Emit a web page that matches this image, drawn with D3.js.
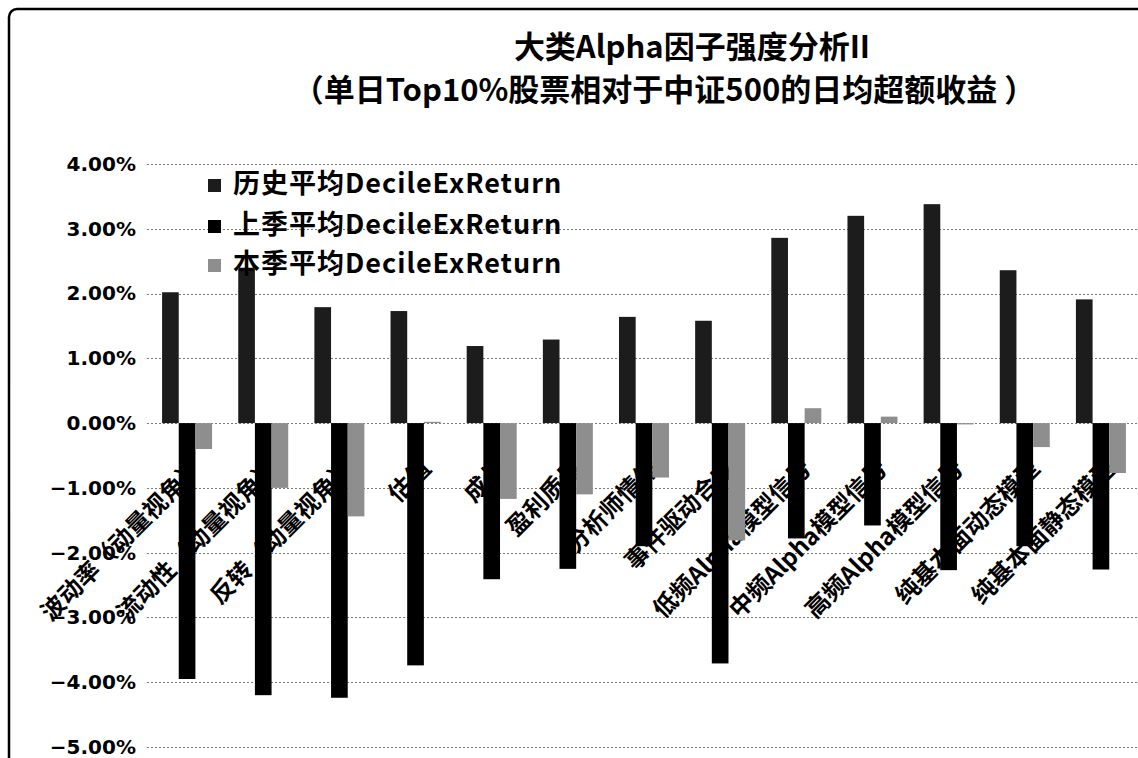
<!DOCTYPE html>
<html>
<head>
<meta charset="utf-8">
<script src="https://cdn.jsdelivr.net/npm/d3@7"></script>
<style>
  html, body { margin: 0; padding: 0; background: #fff; }
  svg { display: block; }
</style>
</head>
<body>
<svg id="chart" width="1138" height="758"></svg>
<script>
const categories = [
  "波动率（动量视角）", "流动性（动量视角）", "反转（动量视角）", "估值", "成长",
  "盈利质量", "分析师情绪", "事件驱动合成", "低频Alpha模型信号", "中频Alpha模型信号",
  "高频Alpha模型信号", "纯基本面动态模型", "纯基本面静态模型"
];
const seriesNames = ["历史平均DecileExReturn", "上季平均DecileExReturn", "本季平均DecileExReturn"];
const histValues = [2.02, 2.38, 1.79, 1.73, 1.19, 1.29, 1.64, 1.58, 2.86, 3.20, 3.38, 2.36, 1.91];
const lastQValues = [-3.95, -4.20, -4.24, -3.74, -2.41, -2.25, -1.90, -3.71, -1.78, -1.58, -2.27, -1.90, -2.26];
const thisQValues = [-0.40, -1.00, -1.44, 0.02, -1.17, -1.10, -0.84, -1.81, 0.23, 0.10, -0.02, -0.37, -0.77];
const yTicks = [4, 3, 2, 1, 0, -1, -2, -3, -4, -5];
const titleLines = ["大类Alpha因子强度分析II", "（单日Top10%股票相对于中证500的日均超额收益 ）"];

const seriesValues = [histValues, lastQValues, thisQValues];
const colors = ["#1c1c1c", "#000000", "#8e8e8e"];

const svg = d3.select("#chart");
const W = 1138, H = 758;
const plot = { left: 149, right: 1139, top: 164, bottom: 747 };

// chart frame
svg.append("rect")
  .attr("x", 9).attr("y", 9).attr("width", 1160).attr("height", 800)
  .attr("rx", 8).attr("fill", "none").attr("stroke", "#000").attr("stroke-width", 2.5);

// title
const title = svg.append("g").attr("font-family", "'Noto Sans CJK SC', 'Noto Sans', sans-serif")
  .attr("font-size", 31).attr("font-weight", "bold").attr("fill", "#000").attr("text-anchor", "middle");
title.append("text").attr("x", 692).attr("y", 58).text(titleLines[0]);
title.append("text").attr("x", 664).attr("y", 101).text(titleLines[1]);

const y = d3.scaleLinear().domain([-5, 4]).range([plot.bottom, plot.top]);
const x0 = d3.scaleBand().domain(categories).range([plot.left, plot.right]).padding(0);
const groupW = 50;
const x1 = d3.scaleBand().domain([0, 1, 2])
  .range([(x0.bandwidth() - groupW) / 2, (x0.bandwidth() + groupW) / 2]).padding(0);

// gridlines
svg.append("g").selectAll("line").data(yTicks).join("line")
  .attr("x1", plot.left - 2).attr("x2", W)
  .attr("y1", d => Math.round(y(d)) + 0.5).attr("y2", d => Math.round(y(d)) + 0.5)
  .attr("stroke", "#7a7a7a").attr("stroke-width", 1).attr("stroke-dasharray", "2,2");

// y axis labels
const yAxis = d3.axisLeft(y).tickValues(yTicks).tickSize(0).tickPadding(0)
  .tickFormat(d => d3.format(".2f")(d) + "%");
const yg = svg.append("g").attr("transform", `translate(${plot.left - 13},0)`).call(yAxis);
yg.select(".domain").remove();
yg.selectAll("text").attr("font-family", "'DejaVu Sans', sans-serif")
  .attr("font-weight", "bold").attr("font-size", 20).attr("fill", "#000");

// category labels (drawn below bars)
const zeroY = y(0);
svg.append("g").selectAll("text").data(categories).join("text")
  .attr("transform", d => `translate(${x0(d) + x0.bandwidth() / 2 + 12},${zeroY + 42}) rotate(-45)`)
  .attr("text-anchor", "end").attr("dominant-baseline", "middle")
  .attr("font-family", "'Noto Sans CJK SC', sans-serif").attr("font-weight", "bold")
  .attr("font-size", 24).attr("fill", "#000")
  .text(d => d);

// bars
const barData = [];
categories.forEach((c, i) => {
  seriesValues.forEach((arr, s) => barData.push({ c, s, v: arr[i] }));
});
svg.append("g").selectAll("rect").data(barData).join("rect")
  .attr("x", d => x0(d.c) + x1(d.s))
  .attr("width", x1.bandwidth())
  .attr("y", d => y(Math.max(0, d.v)))
  .attr("height", d => Math.abs(y(d.v) - y(0)))
  .attr("fill", d => colors[d.s]);

// legend
const legend = svg.append("g").attr("font-family", "'Noto Sans CJK SC', sans-serif")
  .attr("font-weight", "bold").attr("font-size", 27).attr("letter-spacing", 1);
const legY = [186, 227, 266];
seriesNames.forEach((n, i) => {
  legend.append("rect").attr("x", 208).attr("y", legY[i] - 7).attr("width", 13).attr("height", 13)
    .attr("fill", colors[i]);
  legend.append("text").attr("x", 233).attr("y", legY[i]).attr("dominant-baseline", "middle")
    .attr("fill", "#000").text(n);
});
</script>
</body>
</html>
